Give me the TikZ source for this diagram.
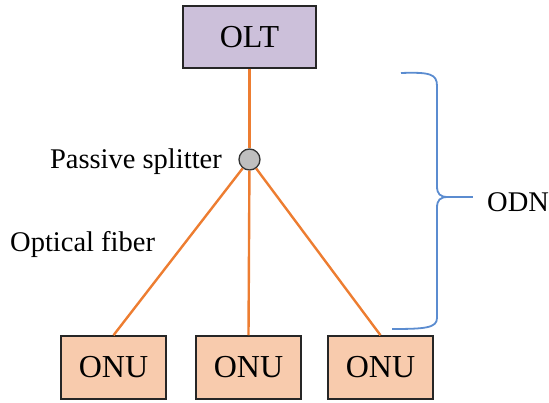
\documentclass[tikz,border=0pt]{standalone}
\usepackage{fontspec}
\setmainfont{Liberation Serif}
\definecolor{oltfill}{RGB}{204,192,218}
\definecolor{onufill}{RGB}{248,203,173}
\definecolor{fiber}{RGB}{237,125,49}
\definecolor{bracec}{RGB}{91,140,208}
\definecolor{splfill}{RGB}{191,191,191}
\begin{document}
\begin{tikzpicture}[x=1pt,y=-1pt,
  boxstyle/.style={draw=black!85, line width=1.5pt, minimum width=133pt, minimum height=62pt, inner sep=0pt, font=\fontsize{32}{36}\selectfont},
  onustyle/.style={boxstyle, fill=onufill, minimum width=105pt, minimum height=63pt},
  fiberline/.style={draw=fiber, line width=2.4pt},
  lbl/.style={inner sep=0pt, font=\fontsize{28.5}{32}\selectfont}]
\useasboundingbox (0,0) rectangle (549,403);
\node[boxstyle, fill=oltfill] (olt) at (249.5,37) {OLT};
\node[onustyle] (onu1) at (113.5,367.5) {ONU};
\node[onustyle] (onu2) at (248.5,367.5) {ONU};
\node[onustyle] (onu3) at (380.5,367.5) {ONU};
\node[circle, draw=black!80, line width=1.3pt, fill=splfill, minimum size=21pt, inner sep=0pt] (spl) at (249.5,159.5) {};
\draw[fiberline] (olt.south) -- (spl);
\draw[fiberline] (spl) -- (onu1.north);
\draw[fiberline] (spl) -- (onu2.north);
\draw[fiberline] (spl) -- (onu3.north);
\node[lbl, anchor=base east] (spltxt) at (222,169) {Passive splitter};
\node[lbl, anchor=base west] (fibtxt) at (10,252) {Optical fiber};
\node[lbl, anchor=base west] (odn) at (487,211.5) {ODN};
\coordinate (btop) at (401,73);
\coordinate (btip) at (448,197);
\coordinate (bend) at (473,197);
\coordinate (bbot) at (392,329);
\draw[bracec, line width=1.8pt]
  (btop) .. controls (430,72) and (437,74) .. (437,86) -- (437,186)
  .. controls (437,194) and (440,197) .. (btip)
  .. controls (440,197) and (437,200) .. (437,208) -- (437,318)
  .. controls (437,328) and (425,329) .. (bbot);
\draw[bracec, line width=1.8pt] (btip) -- (bend);
\end{tikzpicture}
\end{document}
